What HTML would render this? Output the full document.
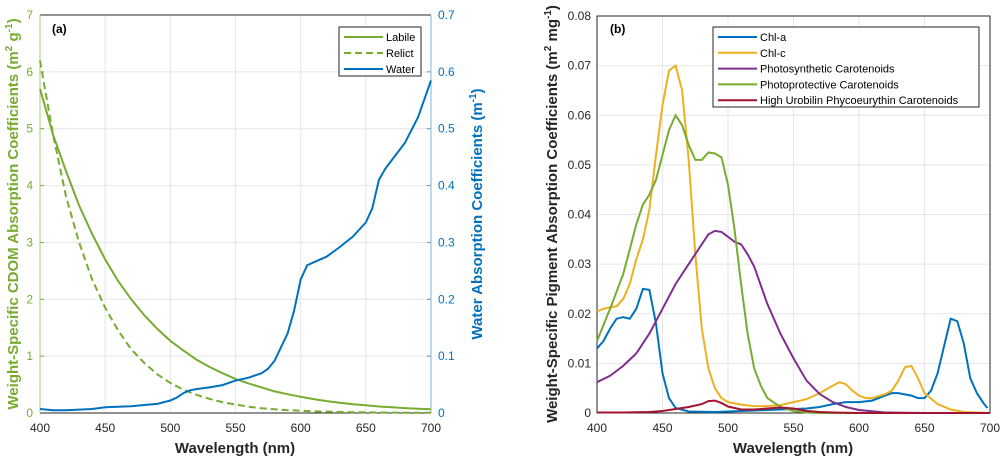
<!DOCTYPE html>
<html><head><meta charset="utf-8"><style>
body{margin:0;background:#fff;}
svg{display:block;font-family:"Liberation Sans",sans-serif;}
</style></head><body>
<svg id="chart" width="1001" height="457" viewBox="0 0 1001 457" xmlns="http://www.w3.org/2000/svg"></svg>
<script>
// Panel (a) data
const aWavelength = [400,410,420,430,440,450,460,470,480,490,500,510,520,530,540,550,560,570,580,590,600,610,620,630,640,650,660,670,680,690,700];
const aLabile = [5.7,4.9,4.25,3.65,3.15,2.7,2.32,2.0,1.72,1.48,1.27,1.1,0.94,0.81,0.7,0.6,0.52,0.45,0.38,0.33,0.285,0.245,0.21,0.18,0.155,0.135,0.115,0.1,0.086,0.074,0.065];
const aRelict = [6.2,4.9,3.8,3.0,2.35,1.85,1.45,1.12,0.88,0.68,0.53,0.41,0.32,0.25,0.19,0.15,0.11,0.085,0.065,0.05,0.04,0.03,0.024,0.018,0.014,0.011,0.009,0.007,0.005,0.004,0.003];
const waterX = [400,410,420,430,440,450,460,470,480,490,500,505,510,515,520,530,540,550,560,570,575,580,590,595,600,605,610,620,630,640,650,655,660,665,670,680,690,700];
const waterY = [0.007,0.005,0.005,0.006,0.007,0.010,0.011,0.012,0.014,0.016,0.022,0.027,0.035,0.040,0.042,0.045,0.049,0.057,0.062,0.070,0.078,0.092,0.14,0.18,0.235,0.26,0.265,0.275,0.292,0.31,0.335,0.36,0.41,0.43,0.445,0.475,0.52,0.585];
const aLeftTicks = [0,1,2,3,4,5,6,7];
const aRightTicks = ["0","0.1","0.2","0.3","0.4","0.5","0.6","0.7"];
const xTicks = [400,450,500,550,600,650,700];
// Panel (b) data
const chlaX = [400,405,410,415,420,425,430,435,440,445,450,455,460,470,490,520,550,560,570,580,590,600,610,620,625,630,640,645,650,655,660,665,670,675,680,685,690,695,698];
const chlaY = [0.013,0.0145,0.017,0.019,0.0193,0.019,0.021,0.025,0.0248,0.018,0.008,0.003,0.001,0.0003,0.0002,0.0005,0.0008,0.0009,0.0012,0.0018,0.0022,0.0022,0.0025,0.0035,0.004,0.004,0.0035,0.003,0.003,0.0045,0.008,0.0135,0.019,0.0185,0.014,0.007,0.004,0.002,0.001];
const chlcX = [400,405,410,415,420,425,430,435,440,445,450,455,460,465,470,475,480,485,490,495,500,510,520,530,540,550,560,570,580,585,590,595,600,605,610,620,625,630,635,640,645,650,660,670,680,700];
const chlcY = [0.0205,0.021,0.0213,0.0215,0.023,0.026,0.031,0.035,0.041,0.052,0.062,0.069,0.07,0.065,0.051,0.032,0.017,0.009,0.005,0.003,0.0022,0.0017,0.0014,0.0014,0.0016,0.0022,0.0028,0.004,0.0055,0.0062,0.0058,0.0045,0.0035,0.003,0.003,0.0038,0.0045,0.0065,0.0092,0.0095,0.007,0.004,0.0018,0.0007,0.0002,0];
const psX = [400,410,420,430,440,450,460,470,480,485,490,495,500,505,510,515,520,530,540,550,560,570,580,590,600,620,650,700];
const psY = [0.0062,0.0075,0.0095,0.012,0.016,0.021,0.026,0.030,0.034,0.036,0.0367,0.0365,0.0355,0.0345,0.034,0.032,0.0295,0.022,0.016,0.011,0.0065,0.0038,0.0022,0.0012,0.0006,0.0001,0,0];
const ppX = [400,410,420,425,430,435,440,445,450,455,460,465,470,475,480,485,490,495,500,505,510,515,520,525,530,540,550,560,570,700];
const ppY = [0.0145,0.021,0.028,0.033,0.038,0.042,0.044,0.047,0.052,0.057,0.06,0.058,0.054,0.051,0.051,0.0525,0.0523,0.0515,0.046,0.037,0.026,0.016,0.009,0.0055,0.003,0.0012,0.0004,0.0001,0,0];
const huX = [400,420,440,450,460,470,480,485,490,495,500,510,520,530,540,550,560,570,580,600,700];
const huY = [0.0001,0.0001,0.0002,0.0004,0.0008,0.0012,0.0018,0.0024,0.0025,0.002,0.0013,0.0007,0.0007,0.0009,0.0011,0.0009,0.0004,0.0002,0.0001,0,0];
const bTicks = ["0","0.01","0.02","0.03","0.04","0.05","0.06","0.07","0.08"];

const NS="http://www.w3.org/2000/svg";
const svg=document.getElementById('chart');
function mk(tag,attrs,parent){const e=document.createElementNS(NS,tag);for(const k in attrs)e.setAttribute(k,attrs[k]);(parent||svg).appendChild(e);return e;}
function txt(s,attrs,parent){const e=mk('text',attrs,parent);e.textContent=s;return e;}

// axis functions
const A={x0:40,x1:431,y0:413,y1:15};
const B={x0:597,x1:990,y0:413,y1:16};
const ax=w=>A.x0+(w-400)/300*(A.x1-A.x0);
const ayL=v=>A.y0-v/7*(A.y0-A.y1);
const ayR=v=>A.y0-v/0.7*(A.y0-A.y1);
const bx=w=>B.x0+(w-400)/300*(B.x1-B.x0);
const by=v=>B.y0-v/0.08*(B.y0-B.y1);

function pathOf(xs,ys,fx,fy){return xs.map((x,i)=>(i?'L':'M')+fx(x).toFixed(1)+','+fy(ys[i]).toFixed(1)).join('');}

// ---- Panel A ----
const gA=mk('g',{});


mk('rect',{x:A.x0,y:A.y1,width:A.x1-A.x0,height:A.y0-A.y1,fill:'#fff'},gA);
xTicks.forEach(t=>{
  const l=mk('line',{x1:ax(t),x2:ax(t),y1:A.y1,y2:A.y0,stroke:'#e6e6e6','stroke-width':1},gA);
  
  
  const lb=txt(String(t),{x:ax(t),y:432,'font-size':12,'text-anchor':'middle',fill:'#262626'},gA);
  
  
});
aLeftTicks.forEach(t=>{
  if(t>0&&t<7){const l=mk('line',{x1:A.x0,x2:A.x1,y1:ayL(t),y2:ayL(t),stroke:'#e6e6e6','stroke-width':1},gA);
  
  }
  const lb=txt(String(t),{x:A.x0-7,y:ayL(t)+4,'font-size':12,'text-anchor':'end',fill:'#77ac30'},gA);
  
  
  mk('line',{x1:A.x0,x2:A.x0+4,y1:ayL(t),y2:ayL(t),stroke:'#77ac30'},gA);
});
aRightTicks.forEach(t=>{
  const v=parseFloat(t);
  const lb=txt(t,{x:A.x1+7,y:ayR(v)+4,'font-size':12,'text-anchor':'start',fill:'#0072bd'},gA);
  
  
  mk('line',{x1:A.x1-4,x2:A.x1,y1:ayR(v),y2:ayR(v),stroke:'#4d9bd0'},gA);
});
mk('line',{x1:A.x0,x2:A.x1,y1:A.y1,y2:A.y1,stroke:'#262626'},gA);
mk('line',{x1:A.x0,x2:A.x1,y1:A.y0,y2:A.y0,stroke:'#262626'},gA);
mk('line',{x1:A.x0,x2:A.x0,y1:A.y1,y2:A.y0,stroke:'#a8cf7a'},gA);
mk('line',{x1:A.x1,x2:A.x1,y1:A.y1,y2:A.y0,stroke:'#7db6df'},gA);

const pLab=mk('path',{d:pathOf(aWavelength,aLabile,ax,ayL),fill:'none',stroke:'#77ac30','stroke-width':2},gA);


const pRel=mk('path',{d:pathOf(aWavelength,aRelict,ax,ayL),fill:'none',stroke:'#77ac30','stroke-width':2,'stroke-dasharray':'7,4'},gA);


const pW=mk('path',{d:pathOf(waterX,waterY,ax,ayR),fill:'none',stroke:'#0072bd','stroke-width':2},gA);



const tA=txt('(a)',{x:52,y:33,'font-size':12,'font-weight':'bold',fill:'#000'},gA);


const xtA=txt('Wavelength (nm)',{x:235,y:453,'font-size':15,'font-weight':'bold','text-anchor':'middle',fill:'#262626'},gA);


const ytL=txt('',{transform:'translate(18,214) rotate(-90)','font-size':15,'font-weight':'bold','text-anchor':'middle',fill:'#77ac30'},gA);
ytL.innerHTML='Weight-Specific CDOM Absorption Coefficients (m<tspan dy="-6" font-size="10">2</tspan><tspan dy="6"> g</tspan><tspan dy="-6" font-size="10">-1</tspan><tspan dy="6">)</tspan>';


const ytR=txt('',{transform:'translate(482,214) rotate(-90)','font-size':15,'font-weight':'bold','text-anchor':'middle',fill:'#0072bd'},gA);
ytR.innerHTML='Water Absorption Coefficients (m<tspan dy="-6" font-size="10">-1</tspan><tspan dy="6">)</tspan>';



// legend A
const lgA=mk('g',{},gA);


mk('rect',{x:339,y:27,width:82,height:49,fill:'#fff',stroke:'#262626','stroke-width':1},lgA);
[['Labile','#77ac30',''],['Relict','#77ac30','7,4'],['Water','#0072bd','']].forEach((e,i)=>{
  const y=37+i*16;
  const g=mk('g',{},lgA);
  
  
  mk('line',{x1:344,x2:383,y1:y,y2:y,stroke:e[1],'stroke-width':2,'stroke-dasharray':e[2]||'none'},g);
  txt(e[0],{x:386,y:y+4,'font-size':11,fill:'#000'},g);
});

// ---- Panel B ----
const gB=mk('g',{});


xTicks.forEach(t=>{
  const l=mk('line',{x1:bx(t),x2:bx(t),y1:B.y1,y2:B.y0,stroke:'#e6e6e6'},gB);
  
  
  const lb=txt(String(t),{x:bx(t),y:432,'font-size':12,'text-anchor':'middle',fill:'#262626'},gB);
  
  
});
bTicks.forEach(t=>{
  const v=parseFloat(t);
  if(v>0&&v<0.08){const l=mk('line',{x1:B.x0,x2:B.x1,y1:by(v),y2:by(v),stroke:'#e6e6e6'},gB);
  
  }
  const lb=txt(t,{x:B.x0-6,y:by(v)+4,'font-size':12,'text-anchor':'end',fill:'#262626'},gB);
  
  
});
mk('rect',{x:B.x0,y:B.y1,width:B.x1-B.x0,height:B.y0-B.y1,fill:'none',stroke:'#262626'},gB);

const seriesB=[[chlaX,chlaY,'#0072bd','chl-a-line'],[chlcX,chlcY,'#edb120','chl-c-line'],[psX,psY,'#7e2f8e','photosynthetic-carotenoids-line'],[ppX,ppY,'#77ac30','photoprotective-carotenoids-line'],[huX,huY,'#a2142f','high-urobilin-line']];
seriesB.forEach(s=>{
  const p=mk('path',{d:pathOf(s[0],s[1],bx,by),fill:'none',stroke:s[2],'stroke-width':2},gB);
  
  
});
const tB=txt('(b)',{x:610,y:33,'font-size':12,'font-weight':'bold',fill:'#000'},gB);


const xtB=txt('Wavelength (nm)',{x:793,y:453,'font-size':15,'font-weight':'bold','text-anchor':'middle',fill:'#262626'},gB);


const ytB=txt('',{transform:'translate(557,214) rotate(-90)','font-size':15,'font-weight':'bold','text-anchor':'middle',fill:'#262626'},gB);
ytB.innerHTML='Weight-Specific Pigment Absorption Coefficients (m<tspan dy="-6" font-size="10">2</tspan><tspan dy="6"> mg</tspan><tspan dy="-6" font-size="10">-1</tspan><tspan dy="6">)</tspan>';



const lgB=mk('g',{},gB);


mk('rect',{x:713,y:27,width:266,height:80,fill:'#fff',stroke:'#262626'},lgB);
[['Chl-a','#0072bd'],['Chl-c','#edb120'],['Photosynthetic Carotenoids','#7e2f8e'],['Photoprotective Carotenoids','#77ac30'],['High Urobilin Phycoeurythin Carotenoids','#a2142f']].forEach((e,i)=>{
  const y=37+i*15.8;
  const g=mk('g',{},lgB);
  
  
  mk('line',{x1:718,x2:757,y1:y,y2:y,stroke:e[1],'stroke-width':2},g);
  txt(e[0],{x:760,y:y+4,'font-size':11,fill:'#000'},g);
});
</script>
</body></html>
